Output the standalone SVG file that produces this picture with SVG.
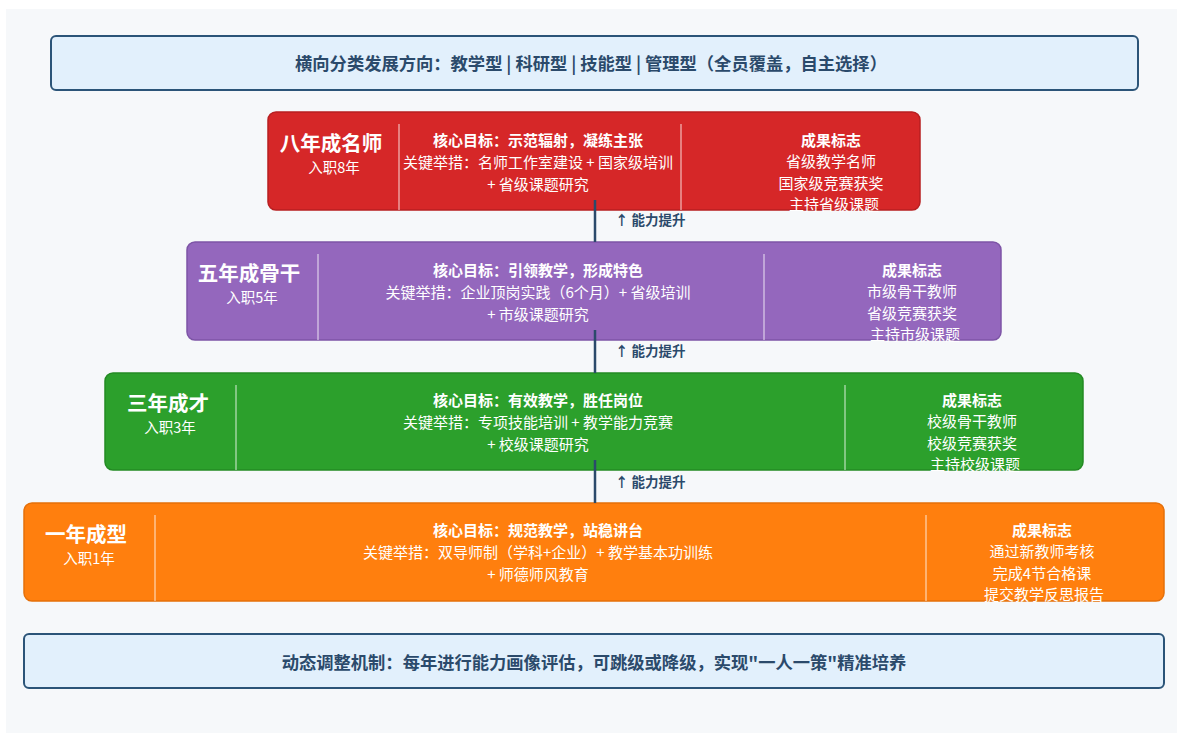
<svg xmlns="http://www.w3.org/2000/svg" width="1183" height="740" viewBox="0 0 1183 740">
<style>
text{font-family:"Noto Sans CJK SC","Noto Sans",sans-serif;dominant-baseline:central;text-anchor:middle}
.info{fill:#e2f0fc;stroke:#2b5478;stroke-width:2}
.infot{font-size:17.3px;font-weight:bold;fill:#2b4a6b}
.ttl{font-size:20.5px;font-weight:bold;fill:#fff}
.sub{font-size:14.5px;fill:#fff}
.b{font-size:15px;font-weight:bold;fill:#fff}
.t{font-size:15px;fill:#fff}
.div{stroke:#fff;stroke-opacity:0.55;stroke-width:1.5}
.conn{stroke:#2b4a6b;stroke-width:2.5}
.lbl{font-size:13.5px;font-weight:bold;fill:#2b4a6b;text-anchor:start}
</style>
<rect x="6" y="9" width="1171" height="724" fill="#f6f8fa"/>
<g id="top-box">
<rect class="info" x="51" y="36" width="1087" height="54" rx="5"/>
<text class="infot" x="591" y="62">横向分类发展方向：教学型 | 科研型 | 技能型 | 管理型（全员覆盖，自主选择）</text>
</g>
<g id="level-8">
<rect x="268" y="112" width="652" height="98" rx="8" fill="#d62728" stroke="#b81f21" stroke-width="1.5"/>
<line class="div" x1="399" y1="124" x2="399" y2="210"/>
<line class="div" x1="681" y1="124" x2="681" y2="210"/>
<text class="ttl" x="331" y="142">八年成名师</text>
<text class="sub" x="334" y="166">入职8年</text>
<text class="b" x="538" y="139">核心目标：示范辐射，凝练主张</text>
<text class="t" x="538" y="161">关键举措：名师工作室建设 + 国家级培训</text>
<text class="t" x="538" y="183">+ 省级课题研究</text>
<text class="b" x="831" y="139">成果标志</text>
<text class="t" x="831" y="160">省级教学名师</text>
<text class="t" x="831" y="182">国家级竞赛获奖</text>
<text class="t" x="834" y="203">主持省级课题</text>
</g>
<g id="level-5">
<rect x="187" y="242" width="814" height="98" rx="8" fill="#9467bd" stroke="#7d54a6" stroke-width="1.5"/>
<line class="div" x1="318" y1="254" x2="318" y2="340"/>
<line class="div" x1="764" y1="254" x2="764" y2="340"/>
<text class="ttl" x="249" y="272">五年成骨干</text>
<text class="sub" x="252" y="296">入职5年</text>
<text class="b" x="538" y="269">核心目标：引领教学，形成特色</text>
<text class="t" x="538" y="291">关键举措：企业顶岗实践（6个月）+ 省级培训</text>
<text class="t" x="538" y="313">+ 市级课题研究</text>
<text class="b" x="912" y="269">成果标志</text>
<text class="t" x="912" y="290">市级骨干教师</text>
<text class="t" x="912" y="312">省级竞赛获奖</text>
<text class="t" x="915" y="333">主持市级课题</text>
</g>
<g id="level-3">
<rect x="105" y="373" width="978" height="97" rx="8" fill="#2ca02c" stroke="#238a23" stroke-width="1.5"/>
<line class="div" x1="236" y1="385" x2="236" y2="470"/>
<line class="div" x1="845" y1="385" x2="845" y2="470"/>
<text class="ttl" x="168" y="402">三年成才</text>
<text class="sub" x="170" y="426">入职3年</text>
<text class="b" x="538" y="399">核心目标：有效教学，胜任岗位</text>
<text class="t" x="538" y="421">关键举措：专项技能培训 + 教学能力竞赛</text>
<text class="t" x="538" y="443">+ 校级课题研究</text>
<text class="b" x="972" y="399">成果标志</text>
<text class="t" x="972" y="420">校级骨干教师</text>
<text class="t" x="972" y="442">校级竞赛获奖</text>
<text class="t" x="975" y="463">主持校级课题</text>
</g>
<g id="level-1">
<rect x="24" y="503" width="1140" height="98" rx="8" fill="#ff7f0e" stroke="#e5700a" stroke-width="1.5"/>
<line class="div" x1="155" y1="515" x2="155" y2="601"/>
<line class="div" x1="926" y1="515" x2="926" y2="601"/>
<text class="ttl" x="86" y="533">一年成型</text>
<text class="sub" x="89" y="557">入职1年</text>
<text class="b" x="538" y="529">核心目标：规范教学，站稳讲台</text>
<text class="t" x="538" y="551">关键举措：双导师制（学科+企业）+ 教学基本功训练</text>
<text class="t" x="538" y="573">+ 师德师风教育</text>
<text class="b" x="1042" y="529">成果标志</text>
<text class="t" x="1042" y="550">通过新教师考核</text>
<text class="t" x="1042" y="572">完成4节合格课</text>
<text class="t" x="1044" y="593">提交教学反思报告</text>
</g>
<g id="bottom-box">
<rect class="info" x="24" y="634" width="1140" height="54" rx="5"/>
<text class="infot" x="594" y="661">动态调整机制：每年进行能力画像评估，可跳级或降级，实现"一人一策"精准培养</text>
</g>
<g id="connectors">
<line class="conn" x1="595" y1="200" x2="595" y2="242"/>
<text class="lbl" x="615" y="219">↑ 能力提升</text>
<line class="conn" x1="595" y1="330" x2="595" y2="373"/>
<text class="lbl" x="615" y="350">↑ 能力提升</text>
<line class="conn" x1="595" y1="460" x2="595" y2="503"/>
<text class="lbl" x="615" y="481">↑ 能力提升</text>
</g>
</svg>
